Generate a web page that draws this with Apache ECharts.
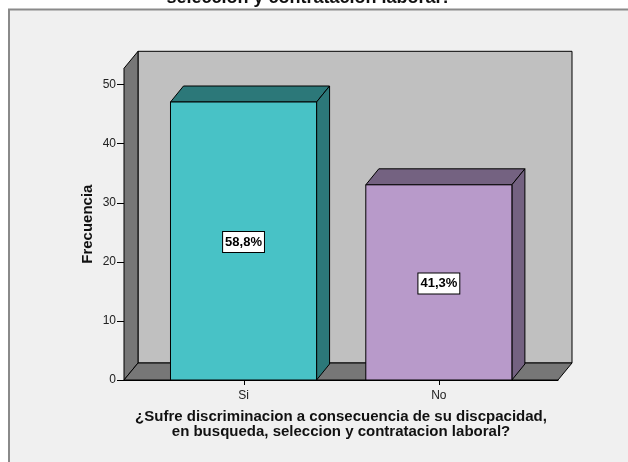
<!DOCTYPE html>
<html>
<head>
<meta charset="utf-8">
<script src="https://cdn.jsdelivr.net/npm/echarts@6/dist/echarts.min.js"></script>
<style>
  html, body { margin: 0; padding: 0; background: #ffffff; }
  #chart { width: 628px; height: 462px; }
</style>
</head>
<body>
<div id="chart"></div>
<script>
// Respuestas y frecuencias
const categories = ['Si', 'No'];
const frecuencias = [47, 33];
const yTicks = [0, 10, 20, 30, 40, 50];

const total = frecuencias.reduce((a, b) => a + b, 0);
const porcentajes = frecuencias.map(v => (v / total * 100).toFixed(1).replace('.', ',') + '%');

// Colores de cada barra: cara frontal y caras laterales
const frontColors = ['#48c2c6', '#b89aca'];
const shadeColors = ['#2c7879', '#746281'];

const BAR_W = 0.748;        // ancho de barra en unidades del eje x
const BAR_DX = 13, BAR_DY = 16;   // profundidad de las barras
const WALL_DX = 14, WALL_DY = 17; // profundidad de las paredes
const Y_TICK_LEN = 7, X_TICK_LEN = 5;

const FONT = '"Liberation Sans", Arial, sans-serif';

const chart = echarts.init(document.getElementById('chart'), null, { renderer: 'canvas' });

// marcas de graduación: [eje, valor]
const tickData = yTicks.map(v => ['y', v]).concat(categories.map((c, i) => ['x', i]));

const option = {
  backgroundColor: '#f0f0f0',
  animation: false,
  graphic: [
    // margen blanco exterior y borde del marco
    { type: 'rect', silent: true, shape: { x: 0, y: 0, width: 628, height: 9 }, style: { fill: '#ffffff' } },
    { type: 'rect', silent: true, shape: { x: 0, y: 0, width: 8, height: 462 }, style: { fill: '#ffffff' } },
    {
      type: 'polyline', silent: true,
      shape: { points: [[9, 470], [9, 9.5], [640, 9.5]] },
      style: { stroke: '#8a8a8a', lineWidth: 2, fill: null }
    },
    {
      type: 'text', z: 10,
      x: 309, y: -2,
      style: {
        text: 'seleccion y contratacion laboral?',
        font: 'bold 18px ' + FONT,
        fill: '#111', align: 'center', verticalAlign: 'middle'
      }
    }
  ],
  grid: { left: 124, right: 70, top: 68.3, bottom: 82, containLabel: false },
  xAxis: {
    type: 'value',
    min: -0.612, max: 1.61,
    splitLine: { show: false },
    axisLine: { show: true, lineStyle: { color: '#000', width: 1 } },
    axisTick: { show: false },
    axisLabel: {
      customValues: [0, 1],
      formatter: v => categories[Math.round(v)],
      fontFamily: FONT, fontSize: 12, color: '#222', margin: 10
    },
    name: '¿Sufre discriminacion a consecuencia de su discpacidad,\nen busqueda, seleccion y contratacion laboral?',
    nameLocation: 'middle',
    nameGap: 29,
    nameMoveOverlap: false,
    nameTextStyle: {
      fontFamily: FONT, fontWeight: 'bold', fontSize: 15, lineHeight: 15, color: '#111'
    }
  },
  yAxis: {
    type: 'value',
    min: 0, max: 52.7,
    splitLine: { show: false },
    axisLine: { show: true, lineStyle: { color: '#000', width: 1 } },
    axisTick: { show: false },
    axisLabel: {
      customValues: yTicks,
      fontFamily: FONT, fontSize: 12, color: '#222', margin: 8
    },
    name: 'Frecuencia',
    nameLocation: 'middle',
    nameGap: 29,
    nameMoveOverlap: false,
    nameTextStyle: {
      fontFamily: FONT, fontWeight: 'bold', fontSize: 15, color: '#111'
    }
  },
  series: [
    {
      // paredes: fondo, lateral izquierda y piso
      type: 'custom',
      z: 1,
      silent: true,
      data: [[0]],
      renderItem: function (params, api) {
        const cs = params.coordSys;
        const x0 = cs.x, y0 = cs.y, x1 = cs.x + cs.width, y1 = cs.y + cs.height;
        const stroke = { stroke: '#000', lineWidth: 1 };
        return {
          type: 'group',
          children: [
            {
              type: 'rect',
              shape: { x: x0 + WALL_DX, y: y0 - WALL_DY, width: cs.width, height: cs.height },
              style: Object.assign({ fill: '#c0c0c0' }, stroke)
            },
            {
              type: 'polygon',
              shape: { points: [[x0, y1], [x0, y0], [x0 + WALL_DX, y0 - WALL_DY], [x0 + WALL_DX, y1 - WALL_DY]] },
              style: Object.assign({ fill: '#777777' }, stroke)
            },
            {
              type: 'polygon',
              shape: { points: [[x0, y1], [x1, y1], [x1 + WALL_DX, y1 - WALL_DY], [x0 + WALL_DX, y1 - WALL_DY]] },
              style: Object.assign({ fill: '#777777' }, stroke)
            }
          ]
        };
      }
    },
    {
      // marcas de graduación de ambos ejes
      type: 'custom',
      z: 3,
      silent: true,
      data: tickData,
      dimensions: [{ name: 'axis', type: 'ordinal' }, 'value'],
      renderItem: function (params, api) {
        const cs = params.coordSys;
        const item = tickData[params.dataIndex];
        if (item[0] === 'y') {
          const p = api.coord([0, item[1]]);
          const y = Math.round(p[1]) + 0.5;
          return {
            type: 'line',
            shape: { x1: cs.x - Y_TICK_LEN, y1: y, x2: cs.x, y2: y },
            style: { stroke: '#000', lineWidth: 1 }
          };
        }
        const p = api.coord([item[1], 0]);
        const x = Math.round(p[0]) + 0.5;
        const yb = cs.y + cs.height;
        return {
          type: 'line',
          shape: { x1: x, y1: yb, x2: x, y2: yb + X_TICK_LEN },
          style: { stroke: '#000', lineWidth: 1 }
        };
      }
    },
    {
      // barras en 3D con etiqueta de porcentaje
      type: 'custom',
      z: 2,
      data: frecuencias.map((v, i) => [i, v]),
      renderItem: function (params, api) {
        const i = params.dataIndex;
        const x = api.value(0), v = api.value(1);
        const tl = api.coord([x - BAR_W / 2, v]);
        const br = api.coord([x + BAR_W / 2, 0]);
        const stroke = { stroke: '#000', lineWidth: 1 };
        return {
          type: 'group',
          children: [
            {
              type: 'polygon',
              shape: { points: [[tl[0], tl[1]], [tl[0] + BAR_DX, tl[1] - BAR_DY], [br[0] + BAR_DX, tl[1] - BAR_DY], [br[0], tl[1]]] },
              style: Object.assign({ fill: shadeColors[i] }, stroke)
            },
            {
              type: 'polygon',
              shape: { points: [[br[0], tl[1]], [br[0] + BAR_DX, tl[1] - BAR_DY], [br[0] + BAR_DX, br[1] - BAR_DY], [br[0], br[1]]] },
              style: Object.assign({ fill: shadeColors[i] }, stroke)
            },
            {
              type: 'rect',
              shape: { x: tl[0], y: tl[1], width: br[0] - tl[0], height: br[1] - tl[1] },
              style: Object.assign({ fill: frontColors[i] }, stroke)
            },
            {
              type: 'text',
              x: (tl[0] + br[0]) / 2,
              y: (tl[1] + br[1]) / 2 + 1,
              style: {
                text: porcentajes[i],
                font: 'bold 13px ' + FONT,
                fill: '#000',
                align: 'center', verticalAlign: 'middle',
                backgroundColor: '#ffffff',
                borderColor: '#000', borderWidth: 1,
                padding: [4, 2, 3, 2]
              }
            }
          ]
        };
      }
    }
  ]
};

chart.setOption(option);
</script>
</body>
</html>
